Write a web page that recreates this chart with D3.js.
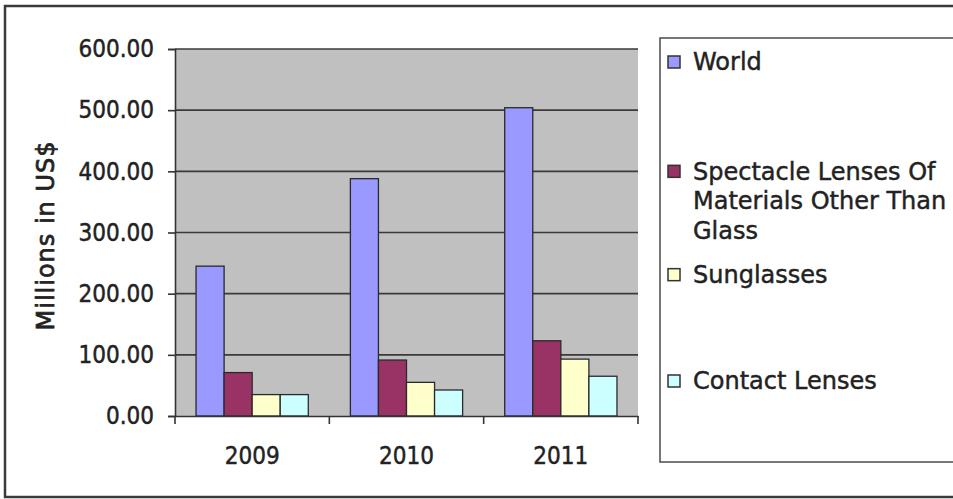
<!DOCTYPE html>
<html>
<head>
<meta charset="utf-8">
<script src="https://cdn.jsdelivr.net/npm/d3@7"></script>
<style>
  html, body { margin: 0; padding: 0; background: #fff; }
  svg { display: block; font-family: "DejaVu Sans Condensed", "DejaVu Sans", sans-serif; }
  svg text { paint-order: stroke; stroke: #222; stroke-width: 0.45px; }
</style>
</head>
<body>
<svg id="chart" width="953" height="499"></svg>
<script>
// Years on the category axis
const categories = ["2009", "2010", "2011"];

// Series names and their legend lines
const seriesNames = ["World", "Spectacle Lenses", "Sunglasses", "Contact Lenses"];
const legendLines = [
  ["World"],
  ["Spectacle Lenses Of", "Materials Other Than", "Glass"],
  ["Sunglasses"],
  ["Contact Lenses"]
];

// Values in millions of US$
const world      = [245, 388, 504];
const spectacle  = [71, 91.5, 123];
const sunglasses = [35, 55, 93];
const contact    = [35, 42.5, 65];

// Value-axis ticks
const yTicks = [0, 100, 200, 300, 400, 500, 600];

const seriesValues = [world, spectacle, sunglasses, contact];
const colors = ["#9999FF", "#993366", "#FFFFCC", "#CCFFFF"];
const yTitle = "Millions in US$";

const svg = d3.select("#chart");

// Plot frame
const plot = { left: 175, right: 638, top: 49, bottom: 416 };

// Outer chart border
svg.append("rect")
  .attr("x", 5).attr("y", 6)
  .attr("width", 960).attr("height", 491)
  .attr("fill", "#fff")
  .attr("stroke", "#3a3a3a").attr("stroke-width", 2.5);

const y = d3.scaleLinear().domain([0, 600]).range([plot.bottom, plot.top]);
const x0 = d3.scaleBand().domain(categories).range([plot.left, plot.right]).padding(0);
const x1 = d3.scaleBand().domain(seriesNames).range([0, x0.bandwidth()])
  .paddingInner(0).paddingOuter(0.75);

// Grey plot area
svg.append("rect")
  .attr("x", plot.left).attr("y", plot.top)
  .attr("width", plot.right - plot.left).attr("height", plot.bottom - plot.top)
  .attr("fill", "#C0C0C0");

// Horizontal gridlines
svg.append("g")
  .selectAll("line")
  .data(yTicks.filter(t => t > 0))
  .join("line")
  .attr("x1", plot.left).attr("x2", plot.right)
  .attr("y1", d => y(d)).attr("y2", d => y(d))
  .attr("stroke", "#3a3a3a").attr("stroke-width", 1.6);

// Bars
const rows = categories.map((c, i) => ({
  cat: c,
  vals: seriesNames.map((s, j) => ({ s, j, v: seriesValues[j][i] }))
}));

svg.append("g")
  .selectAll("g")
  .data(rows)
  .join("g")
  .attr("transform", d => `translate(${x0(d.cat)},0)`)
  .selectAll("rect")
  .data(d => d.vals)
  .join("rect")
  .attr("x", d => x1(d.s))
  .attr("width", x1.bandwidth())
  .attr("y", d => y(d.v))
  .attr("height", d => y(0) - y(d.v))
  .attr("fill", d => colors[d.j])
  .attr("stroke", "#2a2a2a").attr("stroke-width", 1.3);

// Value axis
const yAxis = svg.append("g")
  .attr("transform", `translate(${plot.left},0)`)
  .call(d3.axisLeft(y).tickValues(yTicks).tickFormat(d3.format(".2f"))
    .tickSize(7).tickPadding(14));
yAxis.select(".domain").attr("stroke", "#333").attr("stroke-width", 1.6);
yAxis.selectAll(".tick line").attr("stroke", "#333").attr("stroke-width", 1.6);
yAxis.selectAll(".tick text")
  .attr("fill", "#222")
  .style("font-size", "24px")
  .style("font-family", "'DejaVu Sans Condensed', 'DejaVu Sans', sans-serif");

// Category axis
const xAxis = svg.append("g")
  .attr("transform", `translate(0,${plot.bottom})`)
  .call(d3.axisBottom(x0).tickSize(0).tickPadding(0));
xAxis.select(".domain").attr("stroke", "#333").attr("stroke-width", 1.6);
xAxis.selectAll(".tick text")
  .attr("y", 40)
  .attr("dy", "0.35em")
  .attr("fill", "#222")
  .style("font-size", "24px")
  .style("font-family", "'DejaVu Sans Condensed', 'DejaVu Sans', sans-serif");

// Category separator ticks
svg.append("g")
  .selectAll("line")
  .data(categories.map(c => x0(c)).concat([plot.right]))
  .join("line")
  .attr("x1", d => d).attr("x2", d => d)
  .attr("y1", plot.bottom).attr("y2", plot.bottom + 8)
  .attr("stroke", "#333").attr("stroke-width", 1.6);

// Axis title
svg.append("text")
  .attr("transform", `translate(46,${(plot.top + plot.bottom) / 2 + 3}) rotate(-90)`)
  .attr("text-anchor", "middle")
  .attr("dy", "0.35em")
  .attr("fill", "#222")
  .style("font-size", "24px")
  .style("font-family", "'DejaVu Sans', sans-serif")
  .style("letter-spacing", "1px")
  .style("stroke-width", "0.7px")
  .text(yTitle);

// Legend
const legend = svg.append("g");
legend.append("rect")
  .attr("x", 660).attr("y", 38)
  .attr("width", 320).attr("height", 424)
  .attr("fill", "#fff")
  .attr("stroke", "#555").attr("stroke-width", 1.6);

const ly = d3.scalePoint().domain(seriesNames).range([62, 381]);
const item = legend.selectAll("g.item")
  .data(seriesNames)
  .join("g")
  .attr("class", "item")
  .attr("transform", (d, i) => `translate(668,${ly(d) + (i === 1 ? 3 : 0)})`);

item.append("rect")
  .attr("x", 0).attr("y", -6)
  .attr("width", 12).attr("height", 12)
  .attr("fill", (d, i) => colors[i])
  .attr("stroke", "#333").attr("stroke-width", 1.5);

item.append("text")
  .attr("fill", "#222")
  .style("font-size", "24px")
  .style("font-family", "'DejaVu Sans', sans-serif")
  .selectAll("tspan")
  .data((d, i) => legendLines[i])
  .join("tspan")
  .attr("x", 25)
  .attr("y", (d, k) => k * 29.5)
  .attr("dy", "0.35em")
  .text(d => d);
</script>
</body>
</html>
